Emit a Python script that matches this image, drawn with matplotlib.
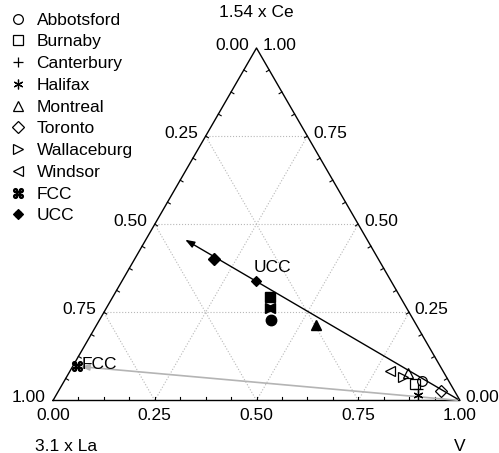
import matplotlib

matplotlib.use("Agg")
import matplotlib.pyplot as plt
from matplotlib.lines import Line2D
import numpy as np

plt.rcParams["font.family"] = ["Liberation Sans", "DejaVu Sans"]

# open markers: sampling sites (fractions of Ce and V, La = rest)
sites = ["Abbotsford", "Burnaby", "Canterbury", "Halifax", "Montreal",
         "Toronto", "Wallaceburg", "Windsor"]
site_markers = ["o", "s", "+", (6, 2, 0), "^", "D", ">", "<"]
site_ce = [0.055, 0.047, 0.032, 0.016, 0.078, 0.027, 0.067, 0.084]
site_v = [0.878, 0.867, 0.881, 0.889, 0.833, 0.940, 0.826, 0.786]

# filled markers in the middle of the diagram
filled_markers = ["D", "s", ">", "<", "o", "^"]
filled_ce = [0.402, 0.293, 0.262, 0.262, 0.228, 0.214]
filled_v = [0.195, 0.387, 0.402, 0.402, 0.422, 0.539]

# reference compositions
ref_names = ["FCC", "UCC"]
ref_ce = [0.098, 0.339]
ref_v = [0.010, 0.329]

# arrow tip of the black mixing line
arrow_ce, arrow_v = 0.460, 0.089

ticks = [0.0, 0.25, 0.5, 0.75, 1.0]
tick_labels = ["0.00", "0.25", "0.50", "0.75", "1.00"]

H = np.sqrt(3) / 2


def tern(ce, v):
    ce = np.asarray(ce, dtype=float)
    v = np.asarray(v, dtype=float)
    return v + ce / 2, ce * H


fig = plt.figure(figsize=(4.99, 4.53), dpi=100)
ax = fig.add_axes([53 / 499, 52.5 / 453, 407 / 499, 352.5 / 453])
ax.set_xlim(0, 1)
ax.set_ylim(0, H)
ax.axis("off")

# grid
grid_kw = dict(color="#b8b8b8", lw=0.8, ls=":", zorder=1)
for f in [0.25, 0.5, 0.75]:
    x, y = tern([f, f], [0, 1 - f])          # Ce constant
    ax.plot(x, y, **grid_kw)
    x, y = tern([0, 1 - f], [f, f])          # V constant
    ax.plot(x, y, **grid_kw)
    x, y = tern([0, 1 - f], [1 - f, 0])      # La constant
    ax.plot(x, y, **grid_kw)

# triangle frame
x, y = tern([0, 0, 1, 0], [0, 1, 0, 0])
ax.plot(x, y, color="black", lw=1.0, zorder=2, clip_on=False)

# small ticks
tl = 0.008
for t in np.arange(1, 16) / 16:
    ax.plot([t, t], [0, tl], color="black", lw=0.8, zorder=2)
    px, py = tern(t, 0)
    ax.plot([px, px + tl * H], [py, py - tl / 2], color="black", lw=0.8, zorder=2)
    px, py = tern(t, 1 - t)
    ax.plot([px, px - tl * H], [py, py - tl / 2], color="black", lw=0.8, zorder=2)

fs = 12.5
# bottom axis (V)
for t, lab in zip(ticks, tick_labels):
    ax.text(t, -0.018, lab, ha="center", va="top", fontsize=fs)
# left axis (La)
for t, lab in zip(ticks, tick_labels):
    px, py = tern(1 - t, 0)
    ax.text(px - 0.018, py - 0.012, lab, ha="right", va="bottom", fontsize=fs)
# right axis (Ce)
for t, lab in zip(ticks, tick_labels):
    px, py = tern(t, 1 - t)
    ax.text(px + 0.014, py - 0.012, lab, ha="left", va="bottom", fontsize=fs)

ax.text(0.5, H + 0.068, "1.54 x Ce", ha="center", va="bottom", fontsize=fs)
ax.text(-0.045, -0.094, "3.1 x La", ha="left", va="top", fontsize=fs)
ax.text(1.0, -0.094, "V", ha="center", va="top", fontsize=fs)

# mixing lines
fx, fy = tern(ref_ce[0], ref_v[0])
ax.annotate("", xy=(float(fx) + 0.002, float(fy) - 0.001), xytext=(1.0, 0.0),
            arrowprops=dict(arrowstyle="-|>,head_length=0.5,head_width=0.18",
                            color="#b4b4b4", lw=1.2), zorder=3)
tx, ty = tern(arrow_ce, arrow_v)
ax.annotate("", xy=(float(tx), float(ty)), xytext=(1.0, 0.0),
            arrowprops=dict(arrowstyle="-|>,head_length=0.55,head_width=0.2",
                            color="black", lw=1.0), zorder=4)

# filled points
for m, ce, v in zip(filled_markers, filled_ce, filled_v):
    x, y = tern(ce, v)
    ms = 6.5 if m == "D" else 7.5
    ax.plot(x, y, marker=m, color="black", ms=ms, ls="none", zorder=5)

# open points
handles = []
for name, m, ce, v in zip(sites, site_markers, site_ce, site_v):
    x, y = tern(ce, v)
    ms = 6 if m == "D" else 7
    ax.plot(x, y, marker=m, ms=ms, ls="none", color="black",
            mfc="none", mew=0.9, zorder=6, clip_on=False)
    handles.append(Line2D([], [], marker=m, ms=ms, ls="none", color="black",
                          mfc="none", mew=0.9, label=name))

ref_markers = ["$\u2318$", "$\u2756$"]
for name, m, ce, v in zip(ref_names, ref_markers, ref_ce, ref_v):
    x, y = tern(ce, v)
    ax.plot(x, y, marker=m, ms=7, ls="none", color="black", zorder=6)
    handles.append(Line2D([], [], marker=m, ms=7, ls="none", color="black", label=name))

ax.text(float(fx) + 0.012, float(fy) + 0.004, "FCC", fontsize=fs, ha="left", va="center", zorder=7)
ux, uy = tern(ref_ce[1], ref_v[1])
ax.text(float(ux) - 0.005, float(uy) + 0.014, "UCC", fontsize=fs, ha="left", va="bottom", zorder=7)

fig.legend(handles=handles, loc="upper left", bbox_to_anchor=(-0.012, 1.003),
           frameon=False, fontsize=fs, handlelength=1.2, handletextpad=0.45,
           labelspacing=0.38, borderpad=0.3)

fig.savefig("out.png", dpi=100)
